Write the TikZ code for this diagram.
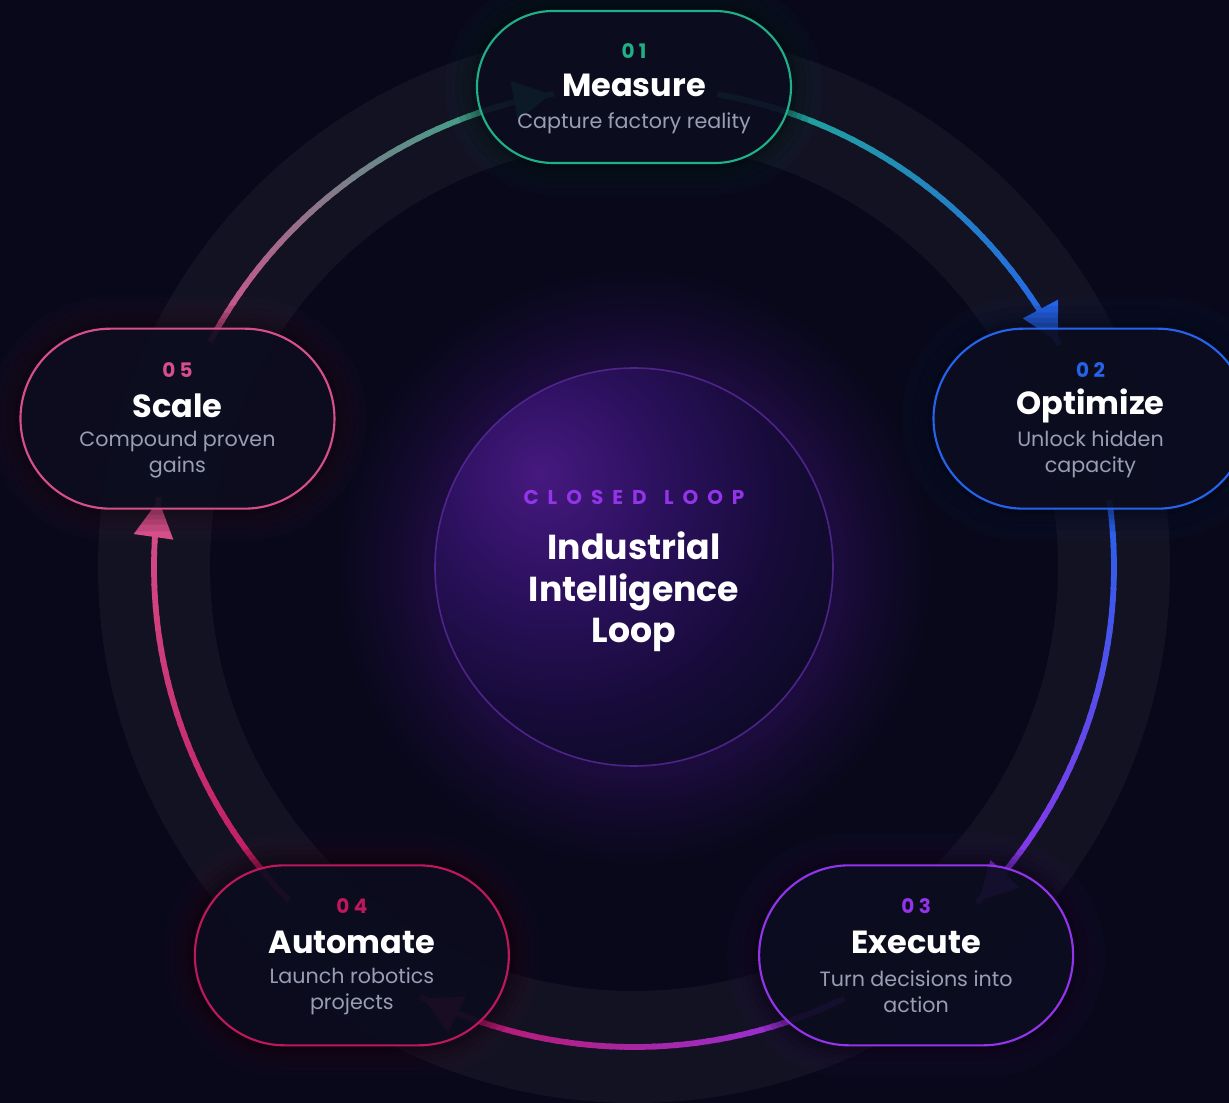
\documentclass[tikz,border=0pt]{standalone}
\usepackage{fontspec}
\setmainfont{Poppins}
\usetikzlibrary{shapes.misc,calc}
\definecolor{bg}{HTML}{08081A}
\definecolor{nodefill}{HTML}{0C0D20}
\definecolor{cTeal}{HTML}{20B088}
\definecolor{cBlue}{HTML}{2563EB}
\definecolor{cPurple}{HTML}{9333EA}
\definecolor{cCrimson}{HTML}{BE185D}
\definecolor{cPink}{HTML}{D64F8A}
\definecolor{subgray}{HTML}{9A9DB3}
\definecolor{haze1}{HTML}{1C0C3E}
\definecolor{core1}{HTML}{46197F}
\definecolor{core2}{HTML}{2D1160}
\definecolor{core3}{HTML}{170B3A}
\definecolor{core4}{HTML}{0A0A20}
\definecolor{coreline}{HTML}{5B2A9C}
\pgfdeclareradialshading{haze}{\pgfpointorigin}{color(0bp)=(haze1); color(17bp)=(haze1); color(20bp)=(haze1!55!bg); color(25bp)=(bg); color(100bp)=(bg)}
\pgfdeclareradialshading{coreshade}{\pgfpoint{-12bp}{12bp}}{color(0bp)=(core1); color(13bp)=(core2); color(27bp)=(core3); color(40bp)=(core4); color(100bp)=(core4)}
\newcommand\gradarc[4]{%
  \foreach \i in {0,...,39}{%
    \pgfmathsetmacro\aa{#1+(#2-#1)*\i/40}%
    \pgfmathsetmacro\bb{#1+(#2-#1)*(\i+1.3)/40}%
    \pgfmathtruncatemacro\pp{100-100*(\i+0.5)/40}%
    \draw[arcline,color=#3!\pp!#4] ([shift={(\aa:480)}]C) arc[start angle=\aa, end angle=\bb, radius=480];
  }}
\newcommand\arrowtip[2]{%
  \fill[#2] ([shift={(#1:480)}]C) -- ($([shift={(#1:480)}]C)+(#1+90:37)+(#1:20)$) -- ($([shift={(#1:480)}]C)+(#1+90:37)+(#1+180:20)$) -- cycle;}
\tikzset{
  arcline/.style={line width=4.3pt, line cap=butt},
  stage/.style={rounded rectangle, draw=#1, line width=1.6pt, fill=nodefill, fill opacity=0.88, minimum width=235.5pt, inner sep=0pt},
  halo/.style={rounded rectangle, draw=none, fill=#1, inner sep=0pt},
  numlab/.style={text=#1, font=\bfseries\fontsize{15}{17}\selectfont\addfontfeature{LetterSpace=22}, inner sep=0pt},
  titlelab/.style={text=white, font=\bfseries\fontsize{24}{28}\selectfont, inner sep=0pt},
  sublab/.style={text=subgray, font=\fontsize{15.5}{19.5}\selectfont, align=center, inner sep=0pt},
}
\begin{document}
\begin{tikzpicture}[x=0.75pt,y=0.75pt]
\useasboundingbox (-634,-536) rectangle (595,567);
\fill[bg] (-634,-536) rectangle (595,567);
\coordinate (C) at (0,0);
% haze around core
\shade[shading=haze] (C) circle[radius=300];
% faint wide band
\draw[line width=84pt, white, opacity=0.045] (C) circle[radius=480];
% core circle
\shade[shading=coreshade] (C) circle[radius=199];
\draw[coreline, line width=1.2pt, opacity=0.8] (C) circle[radius=199];
\node[text=cPurple, font=\bfseries\fontsize{15}{17}\selectfont\addfontfeature{LetterSpace=45}, inner sep=0pt] (kicker) at ($(C)+(0,70)$) {CLOSED\hspace{13pt}LOOP};
\node[text=white, font=\bfseries\fontsize{26}{31.2}\selectfont, align=center, inner sep=0pt] (core) at ($(C)+(0,-25)$) {Industrial\\Intelligence\\Loop};
% arcs
\gradarc{80}{28}{cTeal}{cBlue}
\gradarc{8}{-44}{cBlue}{cPurple}
\gradarc{-64}{-116}{cPurple}{cCrimson}
\gradarc{-136}{-188}{cCrimson}{cPink}
\gradarc{152}{100}{cPink}{cTeal}
\arrowtip{28}{cBlue}
\arrowtip{-44}{cPurple}
\arrowtip{-116}{cCrimson}
\arrowtip{-188}{cPink}
\arrowtip{100}{cTeal}
% halos
\foreach \p/\c/\h in {90/cTeal/114, 18/cBlue/135, -54/cPurple/135, -126/cCrimson/135, 162/cPink/135}{
  \foreach \g in {48,36,26,17}{
    \node[halo=\c, fill opacity=0.025, minimum width=235.5pt+\g pt, minimum height=\h pt+\g pt] at (\p:480) {};
  }
  \foreach \g in {34,24,16,9}{
    \node[halo=black, fill opacity=0.1, minimum width=235.5pt+\g pt, minimum height=\h pt+\g pt] at (\p:480) {};
  }
}
% nodes
\node[stage=cTeal, minimum height=114pt] (m) at (90:480) {};
\node[stage=cBlue, minimum height=135pt] (o) at (18:480) {};
\node[stage=cPurple, minimum height=135pt] (e) at (-54:480) {};
\node[stage=cCrimson, minimum height=135pt] (a) at (-126:480) {};
\node[stage=cPink, minimum height=135pt] (s) at (162:480) {};
% labels
\node[numlab=cTeal] (m-n) at ($(m)+(0,36)$) {01};
\node[titlelab] (m-t) at ($(m)+(0,2)$) {Measure};
\node[sublab] (m-s) at ($(m)+(0,-36)$) {Capture factory reality};
\node[numlab=cBlue] (o-n) at ($(o)+(0,49)$) {02};
\node[titlelab] (o-t) at ($(o)+(0,13)$) {Optimize};
\node[sublab] (o-s) at ($(o)+(0,-36)$) {Unlock hidden\\capacity};
\node[numlab=cPurple] (e-n) at ($(e)+(0,49)$) {03};
\node[titlelab] (e-t) at ($(e)+(0,13)$) {Execute};
\node[sublab] (e-s) at ($(e)+(0,-36)$) {Turn decisions into\\action};
\node[numlab=cCrimson] (a-n) at ($(a)+(0,49)$) {04};
\node[titlelab] (a-t) at ($(a)+(0,13)$) {Automate};
\node[sublab] (a-s) at ($(a)+(0,-36)$) {Launch robotics\\projects};
\node[numlab=cPink] (s-n) at ($(s)+(0,49)$) {05};
\node[titlelab] (s-t) at ($(s)+(0,13)$) {Scale};
\node[sublab] (s-s) at ($(s)+(0,-36)$) {Compound proven\\gains};
\end{tikzpicture}
\end{document}
